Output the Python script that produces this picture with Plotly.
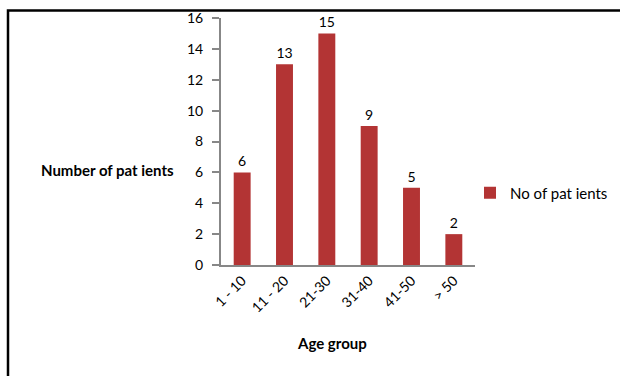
import plotly.graph_objects as go

age_groups = ["1 - 10", "11 - 20", "21-30", "31-40", "41-50", "> 50"]
patients = [6, 13, 15, 9, 5, 2]
y_ticks = [0, 2, 4, 6, 8, 10, 12, 14, 16]

W, H = 620, 376
FONT = "Lato, 'Open Sans', sans-serif"
AXIS_GREY = "#878787"
TEXT = "#000000"


def px_x(p):
    return p / W


def px_y(p):
    return 1 - p / H


fig = go.Figure()
fig.add_trace(go.Bar(
    x=age_groups,
    y=patients,
    name="No of pat ients",
    marker=dict(color="#B33434", line=dict(width=0)),
    text=patients,
    textposition="outside",
    textfont=dict(size=14, color=TEXT, family=FONT),
    cliponaxis=False,
))

fig.update_layout(
    width=W,
    height=H,
    margin=dict(l=0, r=0, t=0, b=0),
    paper_bgcolor="white",
    plot_bgcolor="white",
    font=dict(family=FONT, size=13, color=TEXT),
    bargap=0.6,
    showlegend=True,
    legend=dict(
        x=px_x(470), y=px_y(193), xanchor="left", yanchor="middle",
        font=dict(size=15, family=FONT, color=TEXT),
        itemwidth=30,
        bgcolor="rgba(0,0,0,0)",
    ),
    xaxis=dict(
        domain=[px_x(221), px_x(475)],
        showline=True, linecolor=AXIS_GREY, linewidth=2,
        ticks="", tickangle=-45,
        tickfont=dict(size=14, family=FONT, color=TEXT),
        showgrid=False, automargin=False,
    ),
    yaxis=dict(
        domain=[px_y(265), px_y(18)],
        range=[0, 16], tickvals=y_ticks,
        showline=True, linecolor=AXIS_GREY, linewidth=2,
        ticks="outside", ticklen=7, tickcolor=AXIS_GREY, tickwidth=1.5,
        ticklabelstandoff=6,
        tickfont=dict(size=14, family=FONT, color=TEXT),
        showgrid=False, zeroline=False, automargin=False,
    ),
    annotations=[
        dict(text="<b>Number of pat ients</b>", xref="paper", yref="paper",
             x=px_x(176), y=px_y(170), xanchor="right", yanchor="middle",
             showarrow=False, font=dict(size=15, family=FONT, color=TEXT)),
        dict(text="<b>Age group</b>", xref="paper", yref="paper",
             x=px_x(332), y=px_y(343), xanchor="center", yanchor="middle",
             showarrow=False, font=dict(size=15, family=FONT, color=TEXT)),
    ],
    shapes=[
        dict(type="rect", xref="paper", yref="paper",
             x0=px_x(8), x1=1.05, y0=-0.05, y1=px_y(10.5),
             line=dict(color="black", width=2.5), fillcolor="rgba(0,0,0,0)",
             layer="below"),
    ],
)

fig.write_html("out.html")
